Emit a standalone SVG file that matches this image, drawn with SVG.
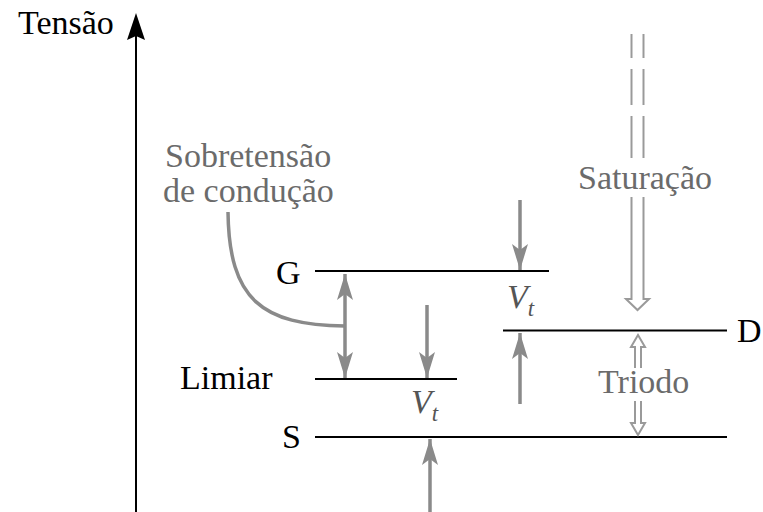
<svg xmlns="http://www.w3.org/2000/svg" width="763" height="512" viewBox="0 0 763 512" font-family="'Liberation Serif', 'Times New Roman', 'DejaVu Serif', serif">
<style>
text{font-family:'Liberation Serif','Times New Roman','DejaVu Serif',serif;font-size:34px;}
.lbl{fill:#000;}
.gt{fill:#6b6b6b;}
.vt{fill:#555;font-style:italic;}
.lvl{stroke:#000;stroke-width:2;fill:none;}
.ga{stroke:#8a8a8a;stroke-width:3.5;fill:none;}
.ho{stroke:#9a9a9a;stroke-width:2;fill:none;}
</style>
<defs>
<marker id="ah" markerUnits="userSpaceOnUse" viewBox="-30 -10 32 20" refX="0" refY="0" markerWidth="32" markerHeight="20" orient="auto-start-reverse">
<path d="M0,0 L-26,-8 L-20,0 L-26,8 Z" fill="#8a8a8a"/>
</marker>
</defs>
<rect width="763" height="512" fill="#fff"/>
<g id="axis">
<line x1="136" y1="512" x2="136" y2="36" stroke="#000" stroke-width="2"/>
<path d="M136,13 L145,40 L136,36 L127,40 Z" fill="#000"/>
<text class="lbl" x="18" y="34">Tensão</text>
</g>
<g id="G">
<line class="lvl" x1="315" y1="271" x2="549" y2="271"/>
<text class="lbl" x="276" y="284">G</text>
</g>
<g id="D">
<line class="lvl" x1="503" y1="330.5" x2="727" y2="330.5"/>
<text class="lbl" x="737" y="342" font-size="33">D</text>
</g>
<g id="Limiar">
<line class="lvl" x1="315" y1="379" x2="457" y2="379"/>
<text class="lbl" x="180" y="389" font-size="35">Limiar</text>
</g>
<g id="S">
<line class="lvl" x1="315" y1="437" x2="727" y2="437"/>
<text class="lbl" x="282" y="448">S</text>
</g>
<g id="sobretensao">
<text class="gt" x="165" y="167">Sobretensão</text>
<text class="gt" x="163" y="202">de condução</text>
</g>
<g id="vt-upper">
<text class="vt" x="507" y="308">V<tspan font-size="23" dy="8">t</tspan></text>
</g>
<g id="vt-lower">
<text class="vt" x="411" y="413">V<tspan font-size="23" dy="8">t</tspan></text>
</g>
<g id="saturacao">
<text class="gt" x="578" y="189">Saturação</text>
</g>
<g id="triodo">
<text class="gt" x="598" y="393">Triodo</text>
</g>
<g id="connectors">
<path class="ga" d="M228,212 C229,300 262,325 345,326" stroke-width="3"/>
<line class="ga" x1="345" y1="274" x2="345" y2="378" marker-start="url(#ah)" marker-end="url(#ah)"/>
<line class="ga" x1="427" y1="305" x2="427" y2="378" marker-end="url(#ah)"/>
<line class="ga" x1="520" y1="200" x2="520" y2="270" marker-end="url(#ah)"/>
<line class="ga" x1="520" y1="404" x2="520" y2="333" marker-end="url(#ah)"/>
<line class="ga" x1="430" y1="512" x2="430" y2="439" marker-end="url(#ah)"/>
<g class="ho">
<line x1="631.5" y1="34" x2="631.5" y2="58"/><line x1="643.5" y1="34" x2="643.5" y2="58"/>
<line x1="631.5" y1="69" x2="631.5" y2="105"/><line x1="643.5" y1="69" x2="643.5" y2="105"/>
<line x1="631.5" y1="116" x2="631.5" y2="158"/><line x1="643.5" y1="116" x2="643.5" y2="158"/>
<path d="M631.5,197 L631.5,299 L626,299 L637.5,310 L649,299 L643.5,299 L643.5,197"/>
<path d="M635,368 L635,347 L631,347 L638,335 L645,347 L641,347 L641,368"/>
<path d="M635,401 L635,423 L631,423 L638,435 L645,423 L641,423 L641,401"/>
</g>
</g>
</svg>
